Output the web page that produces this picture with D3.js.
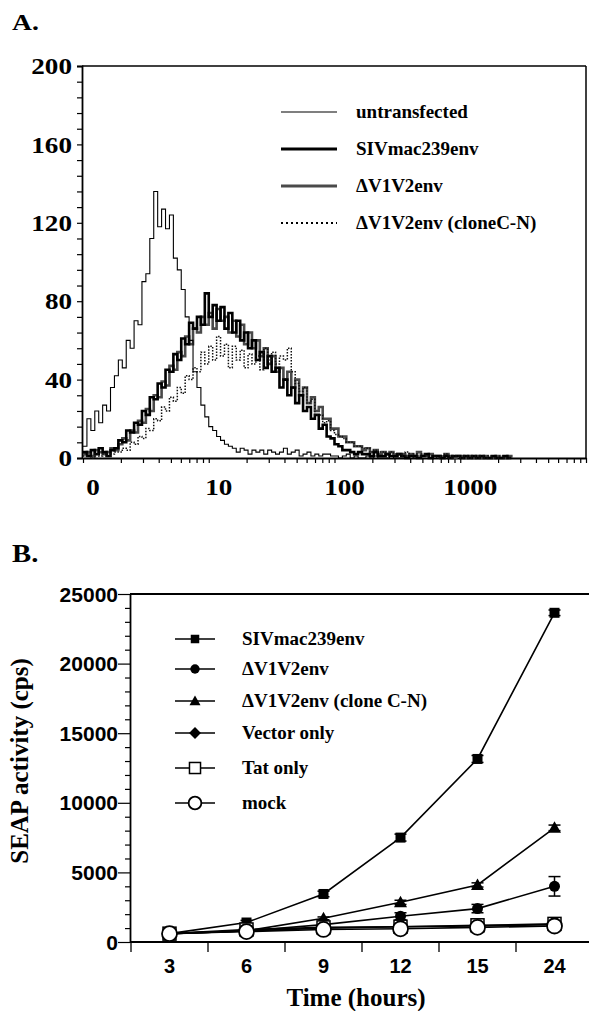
<!DOCTYPE html>
<html><head><meta charset="utf-8">
<script src="https://cdn.jsdelivr.net/npm/d3@7"></script>
<style>
html,body{margin:0;padding:0;background:#fff;}
svg{display:block;}
.serif{font-family:"Liberation Serif","Times New Roman",serif;font-weight:bold;}
.sans{font-family:"Liberation Sans",Arial,sans-serif;font-weight:bold;}
</style></head>
<body>
<script>
// ---------- Panel A data (flow cytometry histograms, 32 channels per decade) ----------
const channelsPerDecade = 32;
const histUntransfected = [6,20,14,24,18,27,24,36,42,50, 46,60,56,70,68,90,94,112,136,118, 127,117,124,102,96,86,72,60,44,36, 27,21,16,14,11,9,7,6,5,3, 5,4,2,4,3,4,2,4,3,2, 3,5,2,3,4,1,2,3,1,2, 1,2,2,1,1,0,1,2,0,1, 0,0,1,0,1,0,0,0,1,0, 0,0,0,1,0,0];
const histSIVmac239env = [3,1,4,2,5,3,1,4,5,9, 8,14,13,18,17,24,22,31,30,38, 36,45,44,53,50,61,58,69,66,72, 68,84,72,78,70,77,66,74,64,70, 60,64,56,60,50,54,46,52,44,46, 36,40,32,36,28,32,24,26,20,22, 15,17,11,10,7,6,4,4,3,2, 3,2,2,1,3,1,1,2,1,1, 2,1,0,1,1,0,1,2,0,1, 1,0,1,0,1,1,0,1,0,1, 0,1,0,0,1,0,0,1,0,0];
const histDV1V2env = [2,3,1,4,3,2,3,5,4,7, 10,9,14,13,19,18,25,24,32,31, 39,37,47,45,54,52,62,58,66,64, 72,68,74,66,76,70,72,64,70,62, 68,58,64,56,60,52,56,48,52,44, 46,40,44,36,40,32,36,28,31,24, 26,20,20,15,15,11,11,8,8,6, 6,4,5,3,4,2,3,2,3,1, 2,2,1,2,1,3,1,1,2,1, 1,0,2,1,0,1,1,0,1,0, 1,0,1,0,0,1,0,0,1,0];
const histCloneCN = [1,2,0,2,1,2,1,2,3,3, 5,4,8,7,11,10,15,14,20,19, 26,24,31,29,36,33,42,40,46,44, 54,48,57,50,62,52,58,46,57,50, 55,46,53,48,52,45,56,50,54,48, 52,50,56,44,38,34,36,28,30,22, 22,18,19,14,12,11,10,8,8,6, 6,5,5,3,4,3,3,2,3,2, 2,1,3,1,2,1,2,1,1,1, 0,1,2,0,1,1,0,1,0,1, 0,1,0,1,0,0,1,0,0,0];
const legendA = ["untransfected","SIVmac239env","\u0394V1V2env","\u0394V1V2env (cloneC-N)"];
const yTicksA = [0,40,80,120,160,200];
const xTickValsA = [1,10,100,1000];
const xTickLabelsA = ["0","10","100","1000"];

// ---------- Panel B data (SEAP activity) ----------
const times = ["3","6","9","12","15","24"];
const seapSIV   = [600,1400,3450,7500,13150,23650];
const errSIV    = [100,150,200,250,250,200];
const seapDV1V2 = [600,800,1250,1850,2400,4000];
const errDV1V2  = [50,100,150,250,300,700];
const seapClone = [600,800,1700,2850,4100,8200];
const errClone  = [50,100,100,150,150,200];
const seapVector= [600,800,1000,1100,1150,1250];
const seapTat   = [600,900,1050,1100,1200,1300];
const seapMock  = [600,750,900,950,1050,1150];
const legendB = ["SIVmac239env","\u0394V1V2env","\u0394V1V2env (clone C-N)","Vector only","Tat only","mock"];
const yTicksB = [0,5000,10000,15000,20000,25000];

const W = 589, H = 1011;
const svg = d3.select("body").append("svg").attr("width",W).attr("height",H);

// ================= PANEL A =================
const xA = d3.scaleLog().domain([1,1e4]).range([83,586]);
const yA = d3.scaleLinear().domain([0,200]).range([458,66]);

svg.append("text").attr("class","serif").attr("transform","translate(12,30) scale(1.15,1)").attr("font-size",24).text("A.");

// frame
svg.append("line").attr("x1",82).attr("x2",586).attr("y1",66).attr("y2",66).attr("stroke","#000").attr("stroke-width",1.5);
svg.append("line").attr("x1",586).attr("x2",586).attr("y1",66).attr("y2",458).attr("stroke","#000").attr("stroke-width",1.5);

// left axis
const gLA = svg.append("g").attr("transform","translate(82,0)")
  .call(d3.axisLeft(yA).tickValues(d3.range(0,201,8)).tickSize(5).tickFormat(""));
gLA.select(".domain").attr("stroke-width",1.8);
gLA.selectAll(".tick line").attr("stroke-width",1.2);
svg.selectAll(".ylabA").data(yTicksA).join("text").attr("class","serif ylabA")
  .attr("transform",d=>`translate(72,${yA(d)}) scale(1.18,1)`).attr("dy","0.36em").attr("text-anchor","end")
  .attr("font-size",23).text(d=>d);

// bottom axis (log)
const minorA = [];
[1,10,100,1000].forEach(dec=>{for(let k=1;k<10;k++) minorA.push(dec*k);});
minorA.push(10000);
const gBA = svg.append("g").attr("transform","translate(0,458)")
  .call(d3.axisBottom(xA).tickValues(minorA).tickSize(5).tickFormat("").tickSizeOuter(0));
gBA.select(".domain").attr("stroke-width",2.2);
gBA.selectAll(".tick line").attr("stroke-width",1.2);
svg.selectAll(".xlabA").data(xTickValsA).join("text").attr("class","serif xlabA")
  .attr("transform",d=>`translate(${xA(d)+10},495) scale(1.18,1)`).attr("text-anchor","middle")
  .attr("font-size",23).text((d,i)=>xTickLabelsA[i]);

// histograms
function histLine(arr){
  const pts = arr.map((v,i)=>[Math.pow(10,i/channelsPerDecade), v]);
  return d3.line().x(d=>xA(d[0])).y(d=>yA(d[1])).curve(d3.curveStepAfter)(pts);
}
const plotA = svg.append("g");
plotA.append("path").attr("d",histLine(histDV1V2env)).attr("fill","none").attr("stroke","#4a4a4a").attr("stroke-width",2.6);
plotA.append("path").attr("d",histLine(histSIVmac239env)).attr("fill","none").attr("stroke","#000").attr("stroke-width",2.6);
plotA.append("path").attr("d",histLine(histCloneCN)).attr("fill","none").attr("stroke","#111").attr("stroke-width",1.5).attr("stroke-dasharray","1.5,1.5");
plotA.append("path").attr("d",histLine(histUntransfected)).attr("fill","none").attr("stroke","#000").attr("stroke-width",1.1);

// legend A
const legAStyles = [
  {w:1.2,c:"#000",dash:null},
  {w:3.2,c:"#000",dash:null},
  {w:2.8,c:"#4a4a4a",dash:null},
  {w:2.2,c:"#000",dash:"2,3"}
];
legendA.forEach((t,i)=>{
  const y = 112 + i*37;
  const s = legAStyles[i];
  const ln = svg.append("line").attr("x1",281).attr("x2",337).attr("y1",y).attr("y2",y)
    .attr("stroke",s.c).attr("stroke-width",s.w);
  if(s.dash) ln.attr("stroke-dasharray",s.dash);
  svg.append("text").attr("class","serif").attr("x",356).attr("y",y+6).attr("font-size",19).text(t);
});

// ================= PANEL B =================
const xB = d3.scaleBand().domain(times).range([131,593]);
const yB = d3.scaleLinear().domain([0,25000]).range([942,594]);
const cx = d=>xB(d)+xB.bandwidth()/2;

svg.append("text").attr("class","serif").attr("transform","translate(12,562) scale(1.15,1)").attr("font-size",25).text("B.");

// top frame line
svg.append("line").attr("x1",130).attr("x2",589).attr("y1",594).attr("y2",594).attr("stroke","#000").attr("stroke-width",1.8);

// left axis
const gLB = svg.append("g").attr("transform","translate(130,0)")
  .call(d3.axisLeft(yB).tickValues(d3.range(0,25001,1000)).tickSize(5).tickFormat("").tickSizeOuter(0));
gLB.select(".domain").attr("stroke-width",1.8);
gLB.selectAll(".tick line").attr("stroke-width",1.2)
  .attr("x2",d=> d%5000===0 ? -12 : -5);
svg.selectAll(".ylabB").data(yTicksB).join("text").attr("class","sans ylabB")
  .attr("x",118).attr("y",d=>yB(d)).attr("dy","0.36em").attr("text-anchor","end")
  .attr("font-size",21).text(d=>d);

// bottom axis
svg.append("line").attr("x1",130).attr("x2",589).attr("y1",942).attr("y2",942).attr("stroke","#000").attr("stroke-width",2);
svg.selectAll(".xtB").data(times).join("line").attr("class","xtB")
  .attr("x1",d=>xB(d)).attr("x2",d=>xB(d)).attr("y1",942).attr("y2",952).attr("stroke","#000").attr("stroke-width",1.3);
svg.selectAll(".xlabB").data(times).join("text").attr("class","sans xlabB")
  .attr("x",cx).attr("y",973).attr("text-anchor","middle").attr("font-size",20).text(d=>d);

// axis titles
svg.append("text").attr("class","serif").attr("x",356).attr("y",1006).attr("text-anchor","middle")
  .attr("font-size",25).text("Time (hours)");
svg.append("text").attr("class","serif").attr("transform","translate(28,761) rotate(-90)")
  .attr("text-anchor","middle").attr("font-size",25).text("SEAP activity (cps)");

// markers
function drawMarker(g, type, x, y, scale){
  const s = scale||1;
  if(type==="fsquare") g.append("rect").attr("x",x-5*s).attr("y",y-5*s).attr("width",10*s).attr("height",10*s).attr("fill","#000");
  else if(type==="fcircle") g.append("circle").attr("cx",x).attr("cy",y).attr("r",5.5*s).attr("fill","#000");
  else if(type==="ftriangle") g.append("path").attr("d",`M${x},${y-6.5*s}L${x+6.5*s},${y+5*s}L${x-6.5*s},${y+5*s}Z`).attr("fill","#000");
  else if(type==="fdiamond") g.append("path").attr("d",`M${x},${y-7*s}L${x+7*s},${y}L${x},${y+7*s}L${x-7*s},${y}Z`).attr("fill","#000");
  else if(type==="osquare") g.append("rect").attr("x",x-6.5*s).attr("y",y-6.5*s).attr("width",13*s).attr("height",13*s).attr("fill","#fff").attr("stroke","#000").attr("stroke-width",1.5);
  else if(type==="ocircle") g.append("circle").attr("cx",x).attr("cy",y).attr("r",7.5*s).attr("fill","#fff").attr("stroke","#000").attr("stroke-width",1.8);
}

const seriesB = [
  {vals:seapSIV, err:errSIV, m:"fsquare"},
  {vals:seapDV1V2, err:errDV1V2, m:"fcircle"},
  {vals:seapClone, err:errClone, m:"ftriangle"},
  {vals:seapVector, err:null, m:"fdiamond"},
  {vals:seapTat, err:null, m:"osquare"},
  {vals:seapMock, err:null, m:"ocircle"}
];
const lineB = d3.line().x((d,i)=>cx(times[i])).y(d=>yB(d));
const plotB = svg.append("g");
seriesB.forEach(s=>{
  plotB.append("path").attr("d",lineB(s.vals)).attr("fill","none").attr("stroke","#000").attr("stroke-width",1.6);
});
seriesB.forEach(s=>{
  const g = plotB.append("g");
  s.vals.forEach((v,i)=>{
    const x = cx(times[i]);
    if(s.err){
      const y1 = yB(v+s.err[i]), y2 = yB(v-s.err[i]);
      g.append("line").attr("x1",x).attr("x2",x).attr("y1",y1).attr("y2",y2).attr("stroke","#000").attr("stroke-width",1.5);
      g.append("line").attr("x1",x-6).attr("x2",x+6).attr("y1",y1).attr("y2",y1).attr("stroke","#000").attr("stroke-width",1.5);
      g.append("line").attr("x1",x-6).attr("x2",x+6).attr("y1",y2).attr("y2",y2).attr("stroke","#000").attr("stroke-width",1.5);
    }
    drawMarker(g, s.m, x, yB(v), 1);
  });
});

// legend B
legendB.forEach((t,i)=>{
  const y = [639,669,701,733,768,803][i];
  svg.append("line").attr("x1",175).attr("x2",215).attr("y1",y).attr("y2",y).attr("stroke","#000").attr("stroke-width",1.6);
  drawMarker(svg, seriesB[i].m, 195, y, 0.85);
  svg.append("text").attr("class","serif").attr("x",242).attr("y",y+6).attr("font-size",19).text(t);
});
</script>
</body></html>
